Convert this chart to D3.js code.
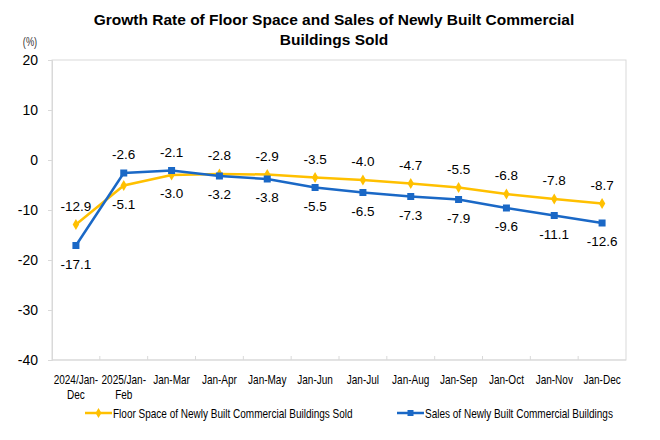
<!DOCTYPE html>
<html>
<head>
<meta charset="utf-8">
<script src="https://cdn.jsdelivr.net/npm/d3@7"></script>
<style>
  body { margin: 0; background: #fff; }
  svg { display: block; font-family: Arial, "Liberation Sans", sans-serif; }
</style>
</head>
<body>
<div id="chart"></div>
<script>
// data
const categories = ["2024/Jan-\nDec", "2025/Jan-\nFeb", "Jan-Mar", "Jan-Apr", "Jan-May", "Jan-Jun",
  "Jan-Jul", "Jan-Aug", "Jan-Sep", "Jan-Oct", "Jan-Nov", "Jan-Dec"];
const floorSpace = [-12.9, -5.1, -3.0, -2.8, -2.9, -3.5, -4.0, -4.7, -5.5, -6.8, -7.8, -8.7];
const sales = [-17.1, -2.6, -2.1, -3.2, -3.8, -5.5, -6.5, -7.3, -7.9, -9.6, -11.1, -12.6];
const yTicks = [20, 10, 0, -10, -20, -30, -40];
// which series gets its label above the point (true = floor space above)
const floorAbove = [true, false, false, true, true, true, true, true, true, true, true, true];

const width = 660, height = 440;
const margin = { top: 60, right: 34, bottom: 80, left: 52 };
const yellow = "#FFC000", blue = "#1A68C6";
const narrow = 0.77; // horizontal squeeze to mimic Arial Narrow

const svg = d3.select("#chart").append("svg")
  .attr("width", width).attr("height", height);

const x = d3.scaleBand().domain(categories).range([margin.left, width - margin.right]);
const y = d3.scaleLinear().domain([-40, 20]).range([height - margin.bottom, margin.top]);

// title
svg.append("text").attr("x", 334).attr("y", 25).attr("text-anchor", "middle")
  .attr("font-size", 15.5).attr("font-weight", "bold").text("Growth Rate of Floor Space and Sales of Newly Built Commercial");
svg.append("text").attr("x", 334).attr("y", 45).attr("text-anchor", "middle")
  .attr("font-size", 15.5).attr("font-weight", "bold").text("Buildings Sold");
svg.append("text").attr("transform", `translate(30,46) scale(${narrow},1)`).attr("text-anchor", "middle")
  .attr("font-size", 12).attr("fill", "#333").text("(%)");

// frame
svg.append("rect")
  .attr("x", margin.left).attr("y", margin.top)
  .attr("width", width - margin.left - margin.right)
  .attr("height", height - margin.top - margin.bottom)
  .attr("fill", "none").attr("stroke", "#d9d9d9");

// y axis
const yAxis = svg.append("g").attr("transform", `translate(${margin.left},0)`)
  .call(d3.axisLeft(y).tickValues(yTicks).tickSize(4).tickPadding(10).tickFormat(d => String(d)));
yAxis.select(".domain").attr("stroke", "#d9d9d9");
yAxis.selectAll(".tick line").attr("stroke", "#d9d9d9");
yAxis.selectAll("text").attr("font-size", 14).attr("fill", "#000").attr("font-family", "Arial, 'Liberation Sans', sans-serif");

// x axis: ticks at band boundaries, pointing inward
const xAxisG = svg.append("g").attr("transform", `translate(0,${y(-40)})`);
xAxisG.append("line").attr("x1", margin.left).attr("x2", width - margin.right)
  .attr("stroke", "#d9d9d9");
xAxisG.selectAll("line.tk").data(categories.slice(1)).join("line").attr("class", "tk")
  .attr("x1", d => x(d)).attr("x2", d => x(d)).attr("y1", 0).attr("y2", -4)
  .attr("stroke", "#d9d9d9");
xAxisG.selectAll("text").data(categories).join("text")
  .attr("text-anchor", "middle")
  .attr("font-size", 13)
  .attr("fill", "#000")
  .attr("transform", d => `translate(${x(d) + x.bandwidth() / 2},0) scale(${narrow},1)`)
  .each(function(d) {
    const t = d3.select(this);
    d.split("\n").forEach((part, i) => {
      t.append("tspan").attr("x", 0).attr("y", 24 + i * 15).text(part);
    });
  });

const cx = (d, i) => x(categories[i]) + x.bandwidth() / 2;
const line = d3.line().x((d, i) => cx(d, i)).y(d => y(d));

// lines
svg.append("path").datum(floorSpace).attr("d", line)
  .attr("fill", "none").attr("stroke", yellow).attr("stroke-width", 2.5);
svg.append("path").datum(sales).attr("d", line)
  .attr("fill", "none").attr("stroke", blue).attr("stroke-width", 2.5);

// markers
svg.selectAll("path.dia").data(floorSpace).join("path").attr("class", "dia")
  .attr("d", d3.symbol(d3.symbolDiamond, 36))
  .attr("transform", (d, i) => `translate(${cx(d, i)},${y(d)})`)
  .attr("fill", yellow);
svg.selectAll("rect.sq").data(sales).join("rect").attr("class", "sq")
  .attr("x", (d, i) => cx(d, i) - 3.5).attr("y", d => y(d) - 3.5)
  .attr("width", 7).attr("height", 7).attr("fill", blue);

// data labels (plain hyphen minus like the original)
const fmt = d => d.toFixed(1);
function labels(data, cls, aboveFn) {
  svg.selectAll("text." + cls).data(data).join("text").attr("class", cls)
    .attr("x", (d, i) => cx(d, i))
    .attr("y", (d, i) => y(d) + (aboveFn(i) ? -14 : 23))
    .attr("text-anchor", "middle")
    .attr("font-size", 13.5)
    .attr("fill", "#000")
    .text(d => fmt(d));
}
labels(floorSpace, "lf", i => floorAbove[i]);
labels(sales, "ls", i => !floorAbove[i]);

// legend
const legend = [
  { name: "Floor Space of Newly Built Commercial Buildings Sold", color: yellow, x: 85, shape: "dia" },
  { name: "Sales of Newly Built Commercial Buildings", color: blue, x: 397, shape: "sq" }
];
const lg = svg.selectAll("g.leg").data(legend).join("g").attr("class", "leg")
  .attr("transform", d => `translate(${d.x},413)`);
lg.append("line").attr("x1", 0).attr("x2", 27).attr("stroke", d => d.color).attr("stroke-width", 2.5);
lg.filter(d => d.shape === "dia").append("path")
  .attr("d", d3.symbol(d3.symbolDiamond, 30)).attr("transform", "translate(13.5,0)").attr("fill", d => d.color);
lg.filter(d => d.shape === "sq").append("rect")
  .attr("x", 10.5).attr("y", -3).attr("width", 6).attr("height", 6).attr("fill", d => d.color);
lg.append("text").attr("transform", `translate(28,4.5) scale(${narrow},1)`)
  .attr("font-size", 13)
  .attr("fill", "#000")
  .text(d => d.name);
</script>
</body>
</html>
